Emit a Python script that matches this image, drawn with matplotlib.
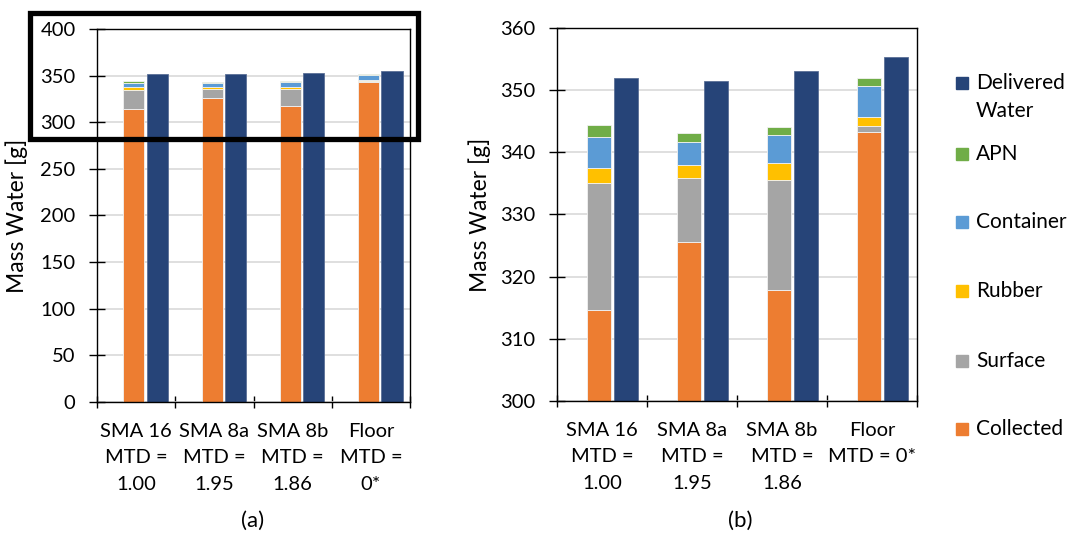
import numpy as np
import matplotlib.pyplot as plt
from matplotlib.patches import Rectangle

plt.rcParams['font.family'] = ['Lato', 'DejaVu Sans']

# values (grams)
labels_a = ['SMA 16\nMTD =\n1.00', 'SMA 8a\nMTD =\n1.95', 'SMA 8b\nMTD =\n1.86', 'Floor\nMTD =\n0*']
labels_b = ['SMA 16\nMTD =\n1.00', 'SMA 8a\nMTD =\n1.95', 'SMA 8b\nMTD =\n1.86', 'Floor\nMTD = 0*']
collected = [314.7, 325.5, 317.8, 343.2]
surface = [20.4, 10.3, 17.8, 1.0]
rubber = [2.4, 2.2, 2.7, 1.4]
container = [5.0, 3.6, 4.5, 5.1]
apn = [1.9, 1.5, 1.2, 1.3]
delivered = [352.0, 351.5, 353.0, 355.3]

series = ['Collected', 'Surface', 'Rubber', 'Container', 'APN']
colors = ['#ED7D31', '#A5A5A5', '#FFC000', '#5B9BD5', '#70AD47']
navy = '#264478'

fig = plt.figure(figsize=(10.7, 5.38), dpi=100)
ax1 = fig.add_axes([0.0907, 0.2528, 0.2925, 0.6933])
ax2 = fig.add_axes([0.5206, 0.2547, 0.3364, 0.6933])

x = np.arange(1, 5)
fs = 14.5


def draw(ax, labels, ylim, step):
    bottom = np.zeros(4)
    for vals, c in zip([collected, surface, rubber, container, apn], colors):
        ax.bar(x - 0.03, vals, 0.27, bottom=bottom, color=c,
               edgecolor='#f2f2f2', linewidth=0.6, zorder=3)
        bottom += np.array(vals)
    ax.bar(x + 0.27, delivered, 0.27, color=navy, edgecolor='#5a6f96',
           linewidth=0.6, zorder=3)
    ax.set_xlim(0.5, 4.5)
    ax.set_ylim(*ylim)
    ax.set_yticks(np.arange(ylim[0], ylim[1] + 1, step))
    ax.yaxis.grid(True, color='#D9D9D9', linewidth=1.2, zorder=0)
    ax.set_xticks(x)
    ax.set_xticklabels(labels, fontsize=fs, linespacing=1.68)
    ax.set_xticks(np.arange(0.5, 4.6, 1), minor=True)
    ax.tick_params(axis='x', which='major', length=0, pad=15)
    ax.tick_params(axis='x', which='minor', length=9, direction='inout', width=1)
    ax.tick_params(axis='y', length=11, direction='inout', width=1,
                   labelsize=fs, pad=10)
    for s in ax.spines.values():
        s.set_linewidth(1.0)
        s.set_zorder(4)
    ax.set_ylabel('Mass Water [g]', fontsize=16.5)


draw(ax1, labels_a, (0, 400), 50)
draw(ax2, labels_b, (300, 360), 10)
ax1.yaxis.set_label_coords(-0.22, 0.5)
ax2.yaxis.set_label_coords(-0.183, 0.5)

fig.text(253 / 1070, 1 - 521 / 538, '(a)', fontsize=16, ha='center', va='center')
fig.text(740 / 1070, 1 - 521 / 538, '(b)', fontsize=16, ha='center', va='center')

# legend, listed top to bottom like the reference
leg_names = ['Delivered\nWater'] + series[::-1]
leg_colors = [navy] + colors[::-1]
leg_y = [83, 154, 222, 291, 361, 429]
for name, c, yy in zip(leg_names, leg_colors, leg_y):
    fy = 1 - yy / 538
    fig.patches.append(Rectangle((956 / 1070, fy - 6 / 538), 12 / 1070, 12 / 538,
                                 transform=fig.transFigure, color=c))
    fig.text(976 / 1070, fy + 10 / 538, name, fontsize=15, ha='left', va='top',
             linespacing=1.5)

# black highlight box over the top of panel (a)
fig.patches.append(Rectangle((29.5 / 1070, 1 - 139 / 538), (418 - 29.5) / 1070,
                             (139 - 12.8) / 538, transform=fig.transFigure,
                             fill=False, edgecolor='black', linewidth=3.8, zorder=10))

fig.savefig('out.png', dpi=100)
